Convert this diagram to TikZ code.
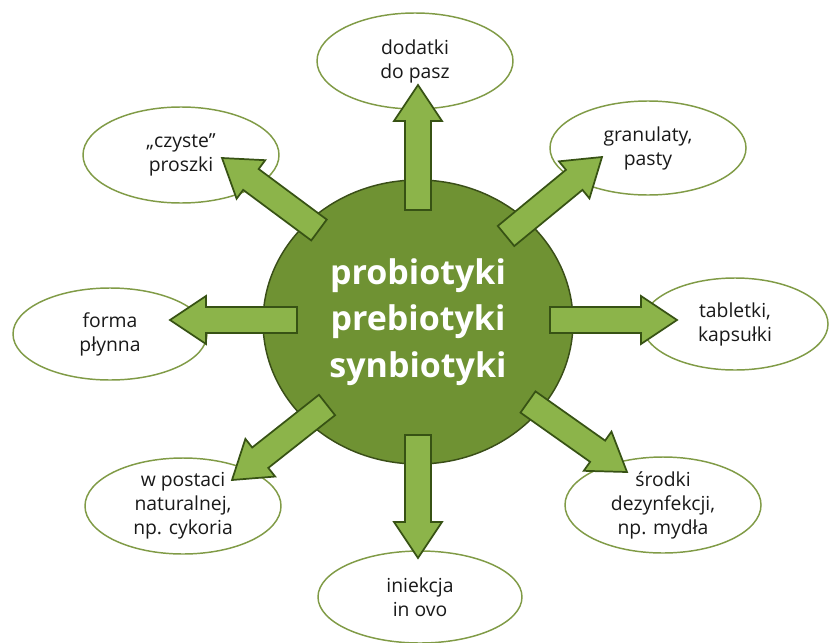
\documentclass[tikz,border=0pt]{standalone}
\usepackage{fontspec}
\setmainfont{Open Sans}
\usetikzlibrary{shapes.geometric,calc}
\definecolor{corefill}{RGB}{111,146,51}
\definecolor{coreline}{RGB}{58,78,24}
\definecolor{arrfill}{RGB}{140,180,74}
\definecolor{arrline}{RGB}{55,82,20}
\definecolor{ellline}{RGB}{128,155,70}
\definecolor{txtcol}{RGB}{25,25,25}
\newcommand\fatarrow[2]{%
  \path ($(#2)!27pt!(#1)$) coordinate (tmpH);
  \draw[fatarr] ($(#1)!9.75pt!90:(#2)$) -- ($(tmpH)!9.75pt!90:(#2)$)
     -- ($(tmpH)!18pt!90:(#2)$) -- (#2) -- ($(tmpH)!18pt!-90:(#2)$)
     -- ($(tmpH)!9.75pt!-90:(#2)$) -- ($(#1)!9.75pt!-90:(#2)$) -- cycle;}
\begin{document}
\begin{tikzpicture}[x=0.75pt,y=-0.75pt,
  corenode/.style={ellipse,draw=coreline,line width=1.1pt,fill=corefill,inner sep=0pt,
    minimum width=232.5pt,minimum height=213pt,align=center,text=white,
    font=\bfseries\fontsize{25.5}{35}\selectfont},
  bubble/.style={ellipse,draw=ellline,line width=1.1pt,fill=white,inner sep=0pt,
    align=center,text=txtcol,font=\fontsize{14.5}{18}\selectfont},
  fatarr/.style={draw=arrline,fill=arrfill,line width=1.3pt,line join=miter}]
\useasboundingbox (0,0) rectangle (830,642);
\fill[white] (0,0) rectangle (830,642);
% centre
\node[corenode] (core) at (418,322) {probiotyki\\prebiotyki\\synbiotyki};
% bubbles
\node[bubble,minimum width=147pt,minimum height=72pt] (e1) at (415,61) {dodatki\\do pasz};
\node[bubble,minimum width=147pt,minimum height=70.5pt] (e2) at (648,148) {granulaty,\\pasty};
\node[bubble,minimum width=147pt,minimum height=72pt] (e3) at (181,155) {„czyste”\\proszki};
\node[bubble,minimum width=145.5pt,minimum height=69pt] (e4) at (110,334) {forma\\płynna};
\node[bubble,minimum width=139.5pt,minimum height=69pt] (e5) at (735,324) {tabletki,\\kapsułki};
\node[bubble,minimum width=147pt,minimum height=72pt] (e6) at (183,506) {w postaci\\naturalnej,\\np. cykoria};
\node[bubble,minimum width=147pt,minimum height=72pt] (e7) at (663,505) {środki\\dezynfekcji,\\np. mydła};
\node[bubble,minimum width=153pt,minimum height=69pt] (e8) at (420,597) {iniekcja\\in ovo};
% arrow ends
\coordinate (t1) at (418,210); \coordinate (p1) at (418,85);
\coordinate (t2) at (506,236); \coordinate (p2) at (602,157);
\coordinate (t3) at (319,230); \coordinate (p3) at (222,158);
\coordinate (t4) at (297,320); \coordinate (p4) at (170,320);
\coordinate (t5) at (550,320); \coordinate (p5) at (677,320);
\coordinate (t6) at (327,405); \coordinate (p6) at (232,480);
\coordinate (t7) at (528,402); \coordinate (p7) at (627,472);
\coordinate (t8) at (418,435); \coordinate (p8) at (418,558);
\fatarrow{t1}{p1}
\fatarrow{t2}{p2}
\fatarrow{t3}{p3}
\fatarrow{t4}{p4}
\fatarrow{t5}{p5}
\fatarrow{t6}{p6}
\fatarrow{t7}{p7}
\fatarrow{t8}{p8}
\end{tikzpicture}
\end{document}
